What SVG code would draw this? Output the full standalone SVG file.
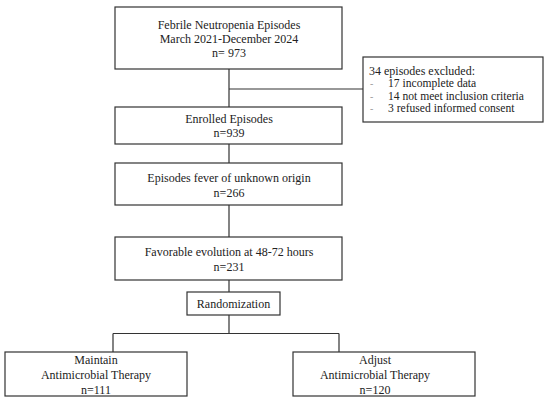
<svg xmlns="http://www.w3.org/2000/svg" width="550" height="399" viewBox="0 0 550 399">
<style>
.box{fill:#fff;stroke:#333;stroke-width:1.2}
.ln{fill:none;stroke:#333;stroke-width:1.2}
text{font-family:"Liberation Serif","Times New Roman",serif;font-size:12px;fill:#222}
.c{text-anchor:middle}
.s{font-size:11.6px}
.dash{fill:#999;font-size:10px}
</style>
<rect width="550" height="399" fill="#fff"/>
<g id="connectors">
<path class="ln" d="M229 69V107M229 89H363M229 144V163M229 205V237M229 280V292M229 315V333.5M113 333.5H339M113 333.5V352M339 333.5V352"/>
</g>
<g id="n1">
<rect class="box" x="115" y="7" width="227" height="62"/>
<text class="c" x="229" y="29">Febrile Neutropenia Episodes</text>
<text class="c" x="229" y="43">March 2021-December 2024</text>
<text class="c" x="229" y="57">n= 973</text>
</g>
<g id="excluded">
<rect class="box" x="363" y="57" width="180" height="65"/>
<text x="369" y="74.5">34 episodes excluded:</text>
<text class="dash" x="370" y="87">-</text>
<text class="s" x="388" y="87">17 incomplete data</text>
<text class="dash" x="370" y="99.5">-</text>
<text class="s" x="388" y="99.5">14 not meet inclusion criteria</text>
<text class="dash" x="370" y="112">-</text>
<text class="s" x="388" y="112">3 refused informed consent</text>
</g>
<g id="n2">
<rect class="box" x="115" y="107" width="227" height="37"/>
<text class="c" x="229" y="123">Enrolled Episodes</text>
<text class="c" x="229" y="137">n=939</text>
</g>
<g id="n3">
<rect class="box" x="115" y="163" width="227" height="42"/>
<text class="c" x="229" y="182">Episodes fever of unknown origin</text>
<text class="c" x="229" y="197">n=266</text>
</g>
<g id="n4">
<rect class="box" x="115" y="237" width="227" height="43"/>
<text class="c" x="229" y="256">Favorable evolution at 48-72 hours</text>
<text class="c" x="229" y="271">n=231</text>
</g>
<g id="rand">
<rect class="box" x="187" y="292" width="93" height="23"/>
<text class="c" x="233.5" y="307.5">Randomization</text>
</g>
<g id="maintain">
<rect class="box" x="5" y="352" width="182" height="44"/>
<text class="c" x="96" y="364">Maintain</text>
<text class="c" x="96" y="379">Antimicrobial Therapy</text>
<text class="c" x="96" y="394">n=111</text>
</g>
<g id="adjust">
<rect class="box" x="293" y="352" width="182" height="44"/>
<text class="c" x="375" y="364">Adjust</text>
<text class="c" x="375" y="379">Antimicrobial Therapy</text>
<text class="c" x="375" y="394">n=120</text>
</g>
</svg>
